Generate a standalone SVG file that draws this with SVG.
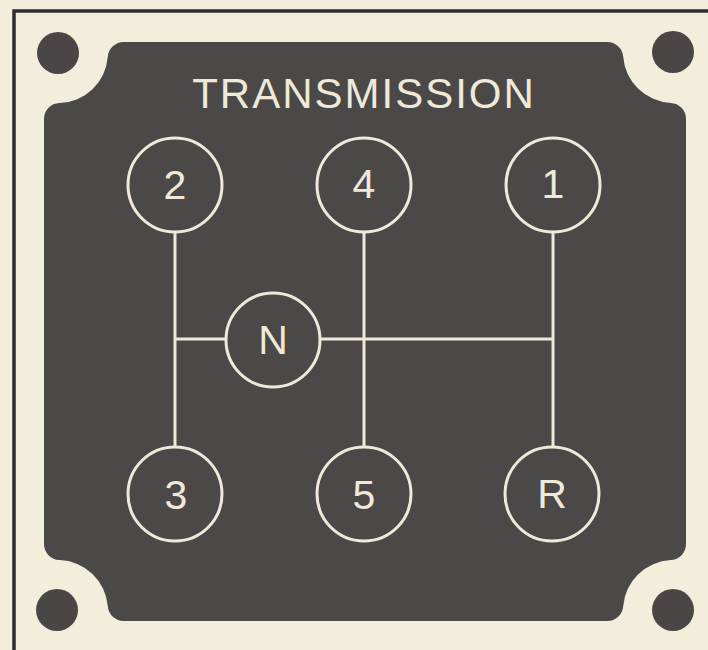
<svg xmlns="http://www.w3.org/2000/svg" width="708" height="650" viewBox="0 0 708 650">
  <style>
    .bg { fill: #f3eddb; }
    .frame { stroke: #2f2c33; stroke-width: 3.5; fill: none; }
    .plate { fill: #4b4848; }
    .dot { fill: #4a4646; }
    .ring { fill: none; stroke: #efe9da; stroke-width: 3; }
    .wire { stroke: #efe9da; stroke-width: 3; fill: none; }
    .lbl { fill: #efe9da; font-family: "Liberation Sans", Arial, sans-serif; font-size: 41px; text-anchor: middle; }
    .title { fill: #efe9da; font-family: "Liberation Sans", Arial, sans-serif; font-size: 42px; letter-spacing: 2px; text-anchor: middle; }
  </style>
  <rect class="bg" x="0" y="0" width="708" height="650"/>
  <path class="frame" d="M14,650 L14,11 L708,11"/>
  <path class="plate" d="M44,119 A16,16 0 0 1 59.5,103 A50,50 0 0 0 107.8,56.8 A16,16 0 0 1 123.8,42 L607.2,42 A16,16 0 0 1 623.2,56.8 A50,50 0 0 0 670.7,102.9 A16,16 0 0 1 686,118.9 L686,544.1 A16,16 0 0 1 670.7,560.1 A50,50 0 0 0 623.2,606.2 A16,16 0 0 1 607.2,621 L123.8,621 A16,16 0 0 1 107.8,606.2 A50,50 0 0 0 59.5,560.1 A16,16 0 0 1 44,544.1 Z"/>
  <circle class="dot" cx="58" cy="53" r="21"/>
  <circle class="dot" cx="673" cy="52" r="21"/>
  <circle class="dot" cx="57" cy="610" r="21"/>
  <circle class="dot" cx="673" cy="610" r="21"/>
  <text class="title" x="364" y="108">TRANSMISSION</text>
  <g id="connectors">
    <line class="wire" x1="175" y1="232" x2="175" y2="447"/>
    <line class="wire" x1="364" y1="232" x2="364" y2="447"/>
    <line class="wire" x1="553" y1="232" x2="553" y2="447"/>
    <line class="wire" x1="175" y1="339" x2="226" y2="339"/>
    <line class="wire" x1="320" y1="339" x2="553" y2="339"/>
  </g>
  <g id="gear-2"><circle class="ring" cx="175" cy="185" r="47"/><text class="lbl" x="175" y="199">2</text></g>
  <g id="gear-4"><circle class="ring" cx="364" cy="185" r="47"/><text class="lbl" x="364" y="198">4</text></g>
  <g id="gear-1"><circle class="ring" cx="553" cy="185" r="47"/><text class="lbl" x="553" y="198">1</text></g>
  <g id="gear-N"><circle class="ring" cx="273" cy="340" r="47"/><text class="lbl" x="273" y="354">N</text></g>
  <g id="gear-3"><circle class="ring" cx="175" cy="494" r="47"/><text class="lbl" x="176" y="509">3</text></g>
  <g id="gear-5"><circle class="ring" cx="364" cy="494" r="47"/><text class="lbl" x="364" y="509">5</text></g>
  <g id="gear-R"><circle class="ring" cx="552" cy="494" r="47"/><text class="lbl" x="552" y="508">R</text></g>
</svg>
